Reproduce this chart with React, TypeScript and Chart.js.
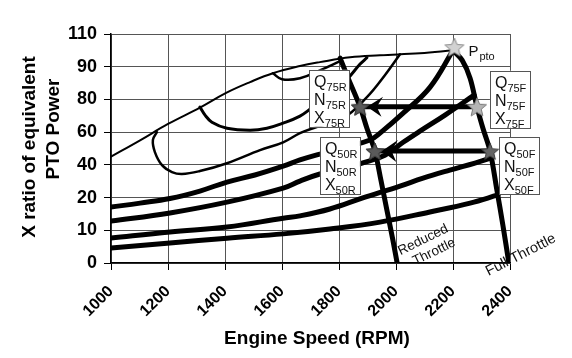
import React, { useEffect, useRef } from "react";
import { Chart, registerables } from "chart.js";

Chart.register(...registerables);

// ---------- data ----------
const xTickValues = [1000, 1200, 1400, 1600, 1800, 2000, 2200, 2400];
const yTickLabels = [0, 10, 20, 40, 60, 80, 90, 110];

// [engine speed (RPM), X ratio]
const envelope = [[1000, 45], [1102, 55], [1200, 65], [1312, 75], [1404, 82], [1488, 85.3], [1568, 88], [1663, 90.4], [1733, 92.8], [1839, 95.8], [1944, 97], [2084, 98.2], [2200, 100]];
const fullThrottle = [[2200, 100], [2232, 94], [2260, 86.5], [2284, 75.5], [2305, 62.4], [2330, 48.4], [2354, 24.6], [2375, 11.6], [2396, 0]];
const reducedThrottle = [[1804, 95.2], [1835, 85.9], [1874, 75.5], [1898, 62.4], [1926, 48.4], [1947, 30.7], [1968, 16.2], [1989, 7], [2004, 0]];
const smallIsland = [[1568, 88], [1600, 86.2], [1663, 86.5], [1733, 88.9], [1804, 93.4]];
const island2 = [[1312, 75.3], [1330, 70.4], [1354, 66.1], [1407, 62.4], [1488, 61.2], [1547, 62.4], [1604, 65.5], [1663, 69.8], [1709, 75.3], [1768, 80.7], [1832, 86.5], [1874, 91.6], [1898, 95.5]];
const island1 = [[1161, 60], [1147, 55.2], [1154, 47.8], [1179, 39.8], [1214, 35.6], [1249, 34.4], [1312, 36.2], [1407, 41], [1523, 49], [1604, 53.8], [1663, 59.4], [1709, 62.4], [1814, 68.6], [1898, 80.7], [1961, 87.4], [2014, 97.6]];
const curveA = [[1000, 17.1], [1102, 18.3], [1207, 19.7], [1312, 24], [1407, 29.5], [1505, 33.8], [1604, 39.2], [1663, 43], [1733, 46.6], [1821, 50.8], [1909, 55.2], [1944, 59.4], [2025, 71.6], [2119, 83.7], [2200, 100]];
const curveB = [[1000, 12.8], [1207, 15.3], [1407, 18.6], [1604, 25.8], [1663, 30.1], [1733, 34.4], [1821, 38], [1881, 41.1], [1961, 45.9], [2025, 53.8], [2084, 60.6], [2172, 70.4], [2274, 81.3]];
const curveC = [[1000, 7.6], [1207, 9.5], [1407, 11], [1604, 13.7], [1663, 14.4], [1768, 16.5], [1881, 19.8], [2014, 27], [2095, 31.9], [2189, 36.8], [2277, 41.1], [2333, 44.1]];
const curveD = [[1000, 4.6], [1207, 6.1], [1407, 7.6], [1604, 8.9], [1768, 10.4], [1944, 12.5], [2119, 15.6], [2260, 18.3], [2358, 21.6]];

// operating points: Ppto, Q75F, Q75R, Q50F, Q50R
const pointNames = ["pto", "75F", "75R", "50F", "50R"];
const pointRpm = [2205, 2284, 1874, 2330, 1926];
const pointVal = [102, 75.5, 75.5, 48.4, 48.4];
const arrow75 = [[2284, 75.5], [1874, 75.5]];
const arrow50 = [[2330, 48.4], [1926, 48.4]];

// ---------- helpers ----------
function toPos(v: number): number {
  const n = yTickLabels.length;
  for (let i = 0; i < n - 1; i++) {
    const a = yTickLabels[i], b = yTickLabels[i + 1];
    if (v <= b || i === n - 2) return i + (v - a) / (b - a);
  }
  return 0;
}
const pts = (arr: number[][]) => arr.map(([x, v]) => ({ x, y: toPos(v) }));

function makeStar(fill: string, stroke: string, r: number) {
  const c = document.createElement("canvas");
  const s = Math.ceil(r * 2 + 4);
  c.width = s;
  c.height = s;
  const ctx = c.getContext("2d")!;
  ctx.translate(s / 2, s / 2 + 1);
  ctx.beginPath();
  for (let i = 0; i < 10; i++) {
    const ang = -Math.PI / 2 + (i * Math.PI) / 5;
    const rr = i % 2 === 0 ? r : r * 0.45;
    ctx.lineTo(Math.cos(ang) * rr, Math.sin(ang) * rr);
  }
  ctx.closePath();
  ctx.fillStyle = fill;
  ctx.fill();
  ctx.strokeStyle = stroke;
  ctx.lineWidth = 1;
  ctx.stroke();
  return c;
}

const FONT = "'Liberation Sans', Arial, Helvetica, sans-serif";

const annotationPlugin = {
  id: "annotations",
  afterDatasetsDraw(chart: any) {
    const ctx = chart.ctx as CanvasRenderingContext2D;
    const meta = chart.getDatasetMeta(0);
    const P = meta.data.map((e: any) => ({ x: e.x, y: e.y }));
    const xs = chart.scales.x, ys = chart.scales.y;

    // arrowheads at reduced-throttle end
    const head = (p: { x: number; y: number }, len: number, half: number) => {
      const tx = p.x + 7;
      ctx.save();
      ctx.fillStyle = "#000";
      ctx.beginPath();
      ctx.moveTo(tx, p.y);
      ctx.lineTo(tx + len, p.y - half);
      ctx.lineTo(tx + len * 0.6, p.y);
      ctx.lineTo(tx + len * 0.9, p.y + half);
      ctx.closePath();
      ctx.fill();
      ctx.restore();
    };
    head(P[2], 16, 10);
    head(P[4], 16, 11);

    // redraw reduced stars over arrowheads
    [2, 4].forEach((i) => {
      const img = meta.data[i].options.pointStyle;
      if (img && img.width) ctx.drawImage(img, P[i].x - img.width / 2, P[i].y - img.height / 2);
    });

    // labelled boxes
    const box = (left: number, top: number, sub: string) => {
      const w = 40, h = 57;
      ctx.save();
      ctx.fillStyle = "#fff";
      ctx.fillRect(left, top, w, h);
      ctx.strokeStyle = "#555";
      ctx.lineWidth = 1;
      ctx.strokeRect(Math.round(left) + 0.5, Math.round(top) + 0.5, w, h);
      ctx.fillStyle = "#111";
      ctx.textBaseline = "alphabetic";
      ["Q", "N", "X"].forEach((L, k) => {
        const by = top + 17 + k * 18;
        ctx.font = `16px ${FONT}`;
        ctx.fillText(L, left + 5, by);
        const lw = ctx.measureText(L).width;
        ctx.font = `11px ${FONT}`;
        ctx.fillText(sub, left + 5 + lw, by + 4);
      });
      ctx.restore();
    };
    box(P[2].x - 51, P[2].y - 37, "75R");
    box(P[1].x + 13, P[1].y - 36, "75F");
    box(P[4].x - 55, P[4].y - 14, "50R");
    box(P[3].x + 9, P[3].y - 14, "50F");

    // P_pto label
    ctx.save();
    ctx.fillStyle = "#111";
    ctx.font = `15px ${FONT}`;
    ctx.fillText("P", P[0].x + 14, P[0].y + 9);
    const pw = ctx.measureText("P").width;
    ctx.font = `11px ${FONT}`;
    ctx.fillText("pto", P[0].x + 14 + pw + 1, P[0].y + 13);
    ctx.restore();

    // throttle labels
    const rb = reducedThrottle[reducedThrottle.length - 1];
    const fb = fullThrottle[fullThrottle.length - 1];
    const rx = xs.getPixelForValue(rb[0]), ry = ys.getPixelForValue(toPos(rb[1]));
    const fx = xs.getPixelForValue(fb[0]), fy = ys.getPixelForValue(toPos(fb[1]));
    const rotText = (t: string, cx: number, cy: number, deg: number, size: number) => {
      ctx.save();
      ctx.translate(cx, cy);
      ctx.rotate((deg * Math.PI) / 180);
      ctx.font = `${size}px ${FONT}`;
      ctx.fillStyle = "#111";
      ctx.textAlign = "center";
      ctx.textBaseline = "middle";
      ctx.fillText(t, 0, 0);
      ctx.restore();
    };
    rotText("Reduced", rx + 26, ry - 23, -26, 13.5);
    rotText("Throttle", rx + 37, ry - 11, -26, 13.5);
    rotText("Full Throttle", fx + 12, fy - 8, -27, 14.5);
  },
  afterDraw(chart: any) {
    const ctx = chart.ctx as CanvasRenderingContext2D;
    ctx.save();
    ctx.fillStyle = "#000";
    ctx.font = `bold 19px ${FONT}`;
    ctx.textAlign = "center";
    ctx.textBaseline = "middle";
    ctx.fillText("Engine Speed (RPM)", 309, 331);
    ctx.translate(22, 139);
    ctx.rotate(-Math.PI / 2);
    ctx.fillText("X ratio of equivalent", 0, 0);
    ctx.restore();
    ctx.save();
    ctx.fillStyle = "#000";
    ctx.font = `bold 19px ${FONT}`;
    ctx.textAlign = "center";
    ctx.textBaseline = "middle";
    ctx.translate(46, 121);
    ctx.rotate(-Math.PI / 2);
    ctx.fillText("PTO Power", 0, 0);
    ctx.restore();
  },
};

export default function App() {
  const ref = useRef<HTMLCanvasElement | null>(null);

  useEffect(() => {
    if (!ref.current) return;
    const stars = [
      makeStar("#d2d2d2", "#8a8a8a", 10),
      makeStar("#b4b4b4", "#7a7a7a", 10),
      makeStar("#5a5a5a", "#3a3a3a", 9),
      makeStar("#646464", "#3a3a3a", 9),
      makeStar("#5a5a5a", "#3a3a3a", 9),
    ];
    const line = (data: number[][], w: number, order: number, tension = 0.4) => ({
      data: pts(data),
      showLine: true,
      borderColor: "#000",
      backgroundColor: "#000",
      borderWidth: w,
      pointRadius: 0,
      pointHoverRadius: 0,
      tension,
      order,
      borderCapStyle: "round" as const,
    });
    const chart = new Chart(ref.current, {
      type: "scatter",
      data: {
        datasets: [
          {
            label: pointNames.join(","),
            data: pointRpm.map((x, i) => ({ x, y: toPos(pointVal[i]) })),
            pointStyle: stars as any,
            pointRadius: 10,
            showLine: false,
            order: 0,
          },
          line(arrow75, 5, 1, 0),
          line(arrow50, 5, 1, 0),
          line(fullThrottle, 5, 2, 0.35),
          line(reducedThrottle, 5, 2, 0.3),
          line(envelope, 2, 3),
          line(smallIsland, 2.5, 3),
          line(island2, 3, 3),
          line(island1, 2.5, 3),
          line(curveA, 5, 3),
          line(curveB, 5, 3),
          line(curveC, 5, 3),
          line(curveD, 5, 3),
        ] as any,
      },
      options: {
        animation: false,
        responsive: true,
        maintainAspectRatio: false,
        devicePixelRatio: 1,
        events: [],
        layout: { padding: { top: 26, right: 54, left: 0, bottom: 0 } },
        plugins: { legend: { display: false }, tooltip: { enabled: false } },
        scales: {
          x: {
            type: "linear",
            min: 1000,
            max: 2400,
            afterFit: (s: any) => { s.height = 87; },
            afterBuildTicks: (s: any) => { s.ticks = xTickValues.map((v) => ({ value: v })); },
            ticks: {
              autoSkip: false,
              minRotation: 45,
              maxRotation: 45,
              padding: 12,
              color: "#000",
              font: { family: FONT, size: 16, weight: "bold" },
              callback: (v: any) => String(v),
            },
            grid: { color: "#555", lineWidth: 1, tickLength: 7, tickColor: "#000" },
            border: { color: "#000", width: 1.5 },
          },
          y: {
            type: "linear",
            min: 0,
            max: yTickLabels.length - 1,
            afterFit: (s: any) => { s.width = 103; },
            ticks: {
              stepSize: 1,
              padding: 7,
              color: "#000",
              font: { family: FONT, size: 18, weight: "bold" },
              callback: (v: any) => (yTickLabels[v] !== undefined ? String(yTickLabels[v]) : ""),
            },
            grid: { color: "#555", lineWidth: 1, tickLength: 7, tickColor: "#000" },
            border: { color: "#000", width: 1.5 },
          },
        },
      } as any,
      plugins: [annotationPlugin],
    });
    return () => chart.destroy();
  }, []);

  return (
    <div style={{ width: 556, height: 342, position: "relative" }}>
      <canvas ref={ref} />
    </div>
  );
}
